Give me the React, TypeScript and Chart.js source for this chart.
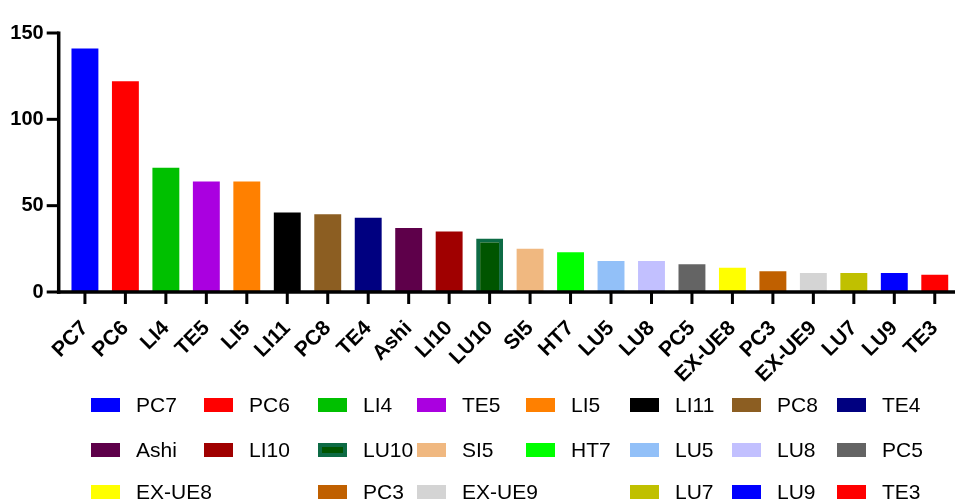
import React, { useEffect, useRef } from 'react';
import { Chart, registerables } from 'chart.js';

Chart.register(...registerables);

const categories = ['PC7', 'PC6', 'LI4', 'TE5', 'LI5', 'LI11', 'PC8', 'TE4', 'Ashi', 'LI10', 'LU10', 'SI5', 'HT7', 'LU5', 'LU8', 'PC5', 'EX-UE8', 'PC3', 'EX-UE9', 'LU7', 'LU9', 'TE3'];
const counts = [141, 122, 72, 64, 64, 46, 45, 43, 37, 35, 31, 25, 23, 18, 18, 16, 14, 12, 11, 11, 11, 10];
const barColors = ['#0000ff', '#ff0000', '#00c000', '#aa00e0', '#ff8000', '#000000', '#8c5e22', '#000080', '#5e004a', '#a00000', '#005500', '#f0b880', '#00ff00', '#92c0f8', '#c2c0ff', '#646464', '#ffff00', '#c06000', '#d4d4d4', '#c0c000', '#0000ff', '#ff0000'];
const yTickValues = [0, 50, 100, 150];

const LU10_BORDER = '#0d6b45';
const FONT = "Arial, 'Liberation Sans', sans-serif";

// legend grid layout (not data)
const legendCols = [91, 204, 318, 417, 526, 630, 732, 837];
const legendRows = [405, 450, 492];
const legendSlots = [0, 1, 2, 3, 4, 5, 6, 7, 8, 9, 10, 11, 12, 13, 14, 15, 16, 18, 19, 21, 22, 23];

const axesPlugin = {
  id: 'customAxes',
  afterDatasetsDraw(chart: any) {
    const { ctx, chartArea, scales } = chart;
    const x = scales.x;
    const y = scales.y;
    const axisX = chartArea.left - 6;
    const y0 = y.getPixelForValue(0);
    const yTop = y.getPixelForValue(150);
    ctx.save();
    ctx.strokeStyle = '#000';
    ctx.lineCap = 'butt';
    ctx.lineWidth = 3.5;
    ctx.beginPath();
    ctx.moveTo(axisX, yTop - 1.5);
    ctx.lineTo(axisX, y0 + 1.75);
    ctx.stroke();
    ctx.beginPath();
    ctx.moveTo(axisX - 1.75, y0);
    ctx.lineTo(chart.width, y0);
    ctx.stroke();
    ctx.lineWidth = 3;
    yTickValues.forEach((v) => {
      const py = y.getPixelForValue(v);
      ctx.beginPath();
      ctx.moveTo(axisX - 12, py);
      ctx.lineTo(axisX, py);
      ctx.stroke();
    });
    categories.forEach((_, i) => {
      const px = x.getPixelForValue(i);
      ctx.beginPath();
      ctx.moveTo(px, y0);
      ctx.lineTo(px, y0 + 12);
      ctx.stroke();
    });
    ctx.restore();
  },
};

const legendPlugin = {
  id: 'gridLegend',
  afterDraw(chart: any) {
    const { ctx } = chart;
    ctx.save();
    ctx.font = `21px ${FONT}`;
    ctx.textBaseline = 'middle';
    ctx.textAlign = 'left';
    categories.forEach((name, i) => {
      const s = legendSlots[i];
      const row = Math.floor(s / 8);
      const col = s % 8;
      const bx = legendCols[col];
      const cy = legendRows[row];
      if (name === 'LU10') {
        ctx.fillStyle = LU10_BORDER;
        ctx.fillRect(bx, cy - 7, 29, 14);
        ctx.fillStyle = barColors[i];
        ctx.fillRect(bx + 4, cy - 3, 21, 6);
      } else {
        ctx.fillStyle = barColors[i];
        ctx.fillRect(bx, cy - 7, 29, 14);
      }
      ctx.fillStyle = '#000';
      ctx.fillText(name, bx + 45, cy + 1);
    });
    ctx.restore();
  },
};

export default function App() {
  const canvasRef = useRef<HTMLCanvasElement | null>(null);

  useEffect(() => {
    const canvas = canvasRef.current;
    if (!canvas) return;
    const chart = new Chart(canvas, {
      type: 'bar',
      data: {
        labels: categories,
        datasets: [
          {
            data: counts,
            backgroundColor: barColors,
            borderColor: categories.map((c, i) => (c === 'LU10' ? LU10_BORDER : barColors[i])),
            borderWidth: categories.map((c) => (c === 'LU10' ? 4 : 0)),
            borderSkipped: 'bottom',
            barPercentage: 0.665,
            categoryPercentage: 1,
          },
        ],
      },
      options: {
        responsive: false,
        animation: false,
        events: [],
        layout: { padding: { top: 22, right: -8, bottom: 110, left: 0 } },
        plugins: {
          legend: { display: false },
          tooltip: { enabled: false },
        },
        scales: {
          x: {
            offset: true,
            grid: { display: false, drawTicks: false },
            border: { display: false },
            ticks: {
              autoSkip: false,
              minRotation: 45,
              maxRotation: 45,
              padding: 24,
              color: '#000',
              font: { family: FONT, size: 21, weight: 'bold' },
            },
            afterFit: (scale: any) => {
              scale.height = 100;
              scale.paddingLeft = 0;
              scale.paddingRight = 0;
            },
          },
          y: {
            min: 0,
            max: 150,
            grid: { display: false, drawTicks: false },
            border: { display: false },
            ticks: {
              stepSize: 50,
              padding: 21,
              color: '#000',
              font: { family: FONT, size: 20, weight: 'bold' },
            },
            afterFit: (scale: any) => {
              scale.width = 64.7;
            },
          },
        },
      },
      plugins: [axesPlugin, legendPlugin],
    });
    return () => chart.destroy();
  }, []);

  return (
    <div style={{ position: 'fixed', left: 0, top: 0, width: 955, height: 502, background: '#fff' }}>
      <canvas ref={canvasRef} width={955} height={502} style={{ display: 'block' }} />
    </div>
  );
}
